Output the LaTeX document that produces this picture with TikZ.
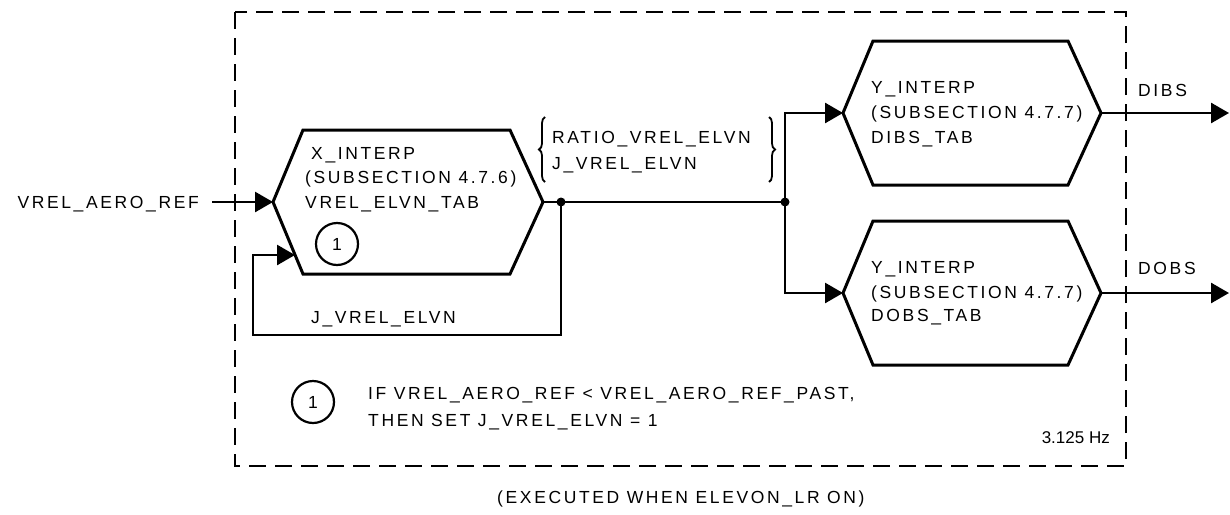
\documentclass[tikz,border=0pt]{standalone}
\usepackage{fontspec}
\setmainfont{Liberation Sans}
\newfontfamily\lab{Liberation Sans}[LetterSpace=15]
\usetikzlibrary{arrows.meta,decorations.pathreplacing}
\tikzset{
  ln/.style={line width=2.7pt},
  hexa/.style={line width=3pt, line join=miter},
  arr/.style={ln,-{Triangle[length=18pt,width=20pt]}},
  txt/.style={anchor=base west, inner sep=0pt, font=\lab\fontsize{17.5}{21}\selectfont},
  num/.style={circle, draw, line width=2.2pt, minimum size=42pt, inner sep=0pt, font=\lab\fontsize{17.5}{21}\selectfont},
  dotn/.style={circle, fill, inner sep=0pt, minimum size=9pt},
  frame/.style={line width=2.6pt, dash pattern=on 17pt off 9pt},
  brc/.style={line width=1.8pt, decorate, decoration={brace, amplitude=6pt}}
}
\begin{document}
\begin{tikzpicture}[x=1pt,y=-1pt]
\useasboundingbox (0,0) rectangle (1230,514);
% frame
\draw[frame] (235,12) rectangle (1126,466);
% X hexagon
\coordinate (xl) at (273,202);
\coordinate (xr) at (543,202);
\draw[hexa] (xl) -- (303,130) -- (510,130) -- (xr) -- (510,274) -- (303,274) -- cycle;
% Y hexagons
\coordinate (y1l) at (843,113);
\coordinate (y1r) at (1101,113);
\draw[hexa] (y1l) -- (873,41) -- (1068,41) -- (y1r) -- (1068,185) -- (873,185) -- cycle;
\coordinate (y2l) at (843,293);
\coordinate (y2r) at (1101,293);
\draw[hexa] (y2l) -- (873,221) -- (1068,221) -- (y2r) -- (1068,365) -- (873,365) -- cycle;
% texts in hexagons
\node[txt] (x1) at (311,159) {X\_INTERP};
\node[txt] (x2) at (305,183) {(SUBSECTION 4.7.6)};
\node[txt] (x3) at (305,208) {VREL\_ELVN\_TAB};
\node[num] (c1) at (337,244) {1};
\node[txt] (a1) at (871,93) {Y\_INTERP};
\node[txt] (a2) at (871,118) {(SUBSECTION 4.7.7)};
\node[txt] (a3) at (871,143) {DIBS\_TAB};
\node[txt] (b1) at (871,273) {Y\_INTERP};
\node[txt] (b2) at (871,298) {(SUBSECTION 4.7.7)};
\node[txt] (b3) at (871,321) {DOBS\_TAB};
% input
\node[txt, anchor=base east] (vin) at (199,208) {VREL\_AERO\_REF};
\coordinate (vins) at (212,202);
\draw[arr] (vins) -- (xl);
% junctions
\node[dotn] (j1) at (561,202) {};
\node[dotn] (j2) at (785,202) {};
\draw[ln] (xr) -- (j1.center) -- (j2.center);
\coordinate (fb) at (295,255);
\draw[arr] (j1.center) |- (253,335) |- (fb);
\node[txt] (jl) at (311,323) {J\_VREL\_ELVN};
\draw[arr] (j2.center) |- (y1l);
\draw[arr] (j2.center) |- (y2l);
% bracket text
\node[txt] (r1) at (552,143) {RATIO\_VREL\_ELVN};
\node[txt] (r2) at (552,169) {J\_VREL\_ELVN};
\draw[brc] (545,182) -- (545,117);
\draw[brc] (769,117) -- (769,182);
% outputs
\coordinate (o1) at (1229,113);
\coordinate (o2) at (1229,293);
\draw[arr] (y1r) -- (o1);
\draw[arr] (y2r) -- (o2);
\node[txt] (dibs) at (1138,96) {DIBS};
\node[txt] (dobs) at (1138,274) {DOBS};
% note
\node[num] (c2) at (313,402) {1};
\node[txt] (n1) at (368,399) {IF VREL\_AERO\_REF < VREL\_AERO\_REF\_PAST,};
\node[txt] (n2) at (368,426) {THEN SET J\_VREL\_ELVN = 1};
\node[anchor=base east, inner sep=0pt, font=\fontsize{17}{20}\selectfont] (hz) at (1110,443) {3.125 Hz};
\node[txt] (ex) at (497,503) {(EXECUTED WHEN ELEVON\_LR ON)};
\end{tikzpicture}
\end{document}
